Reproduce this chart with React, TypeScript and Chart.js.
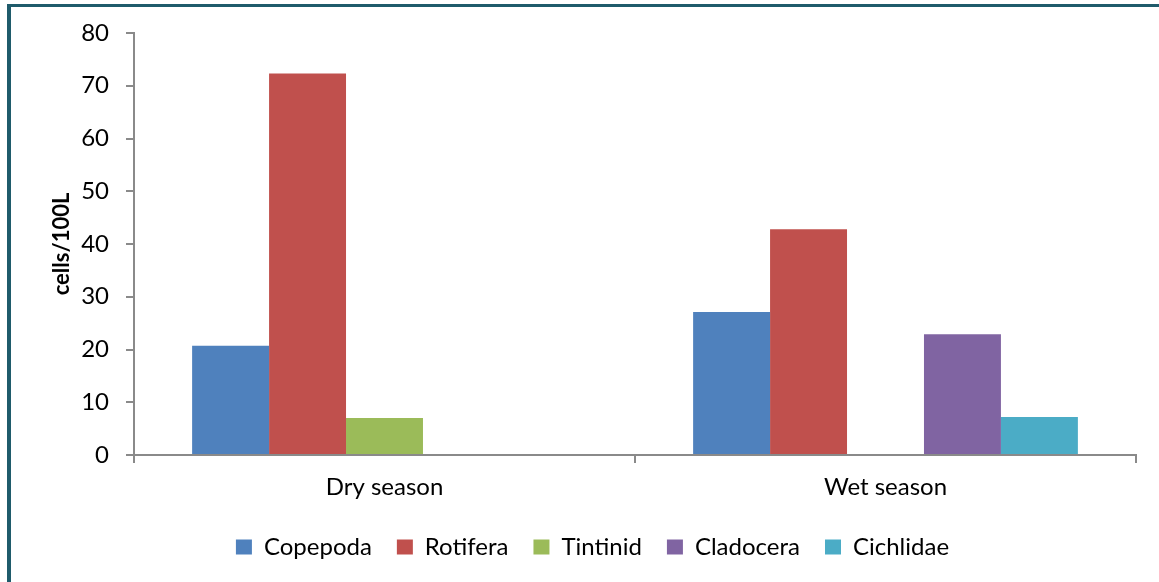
import React, { useEffect, useRef } from "react";
import { Chart, registerables } from "chart.js";

Chart.register(...registerables);

const categories = ["Dry season", "Wet season"];
const seriesNames = ["Copepoda", "Rotifera", "Tintinid", "Cladocera", "Cichlidae"];
const copepoda = [20.7, 27.1];
const rotifera = [72.3, 42.8];
const tintinid = [7.0, null];
const cladocera = [null, 22.9];
const cichlidae = [null, 7.2];
const seriesColors = ["#4F81BD", "#C0504D", "#9BBB59", "#8064A2", "#4BACC6"];
const yTicks = [0, 10, 20, 30, 40, 50, 60, 70, 80];
const yTitle = "cells/100L";

const FONT = "Lato, 'Liberation Sans', sans-serif";
const AXIS_GRAY = "#8A8A8A";

export default function App() {
  const ref = useRef<HTMLCanvasElement | null>(null);

  useEffect(() => {
    if (!ref.current) return;
    const values = [copepoda, rotifera, tintinid, cladocera, cichlidae];
    const chart = new Chart(ref.current, {
      type: "bar",
      data: {
        labels: categories,
        datasets: seriesNames.map((name, i) => ({
          label: name,
          data: values[i],
          backgroundColor: seriesColors[i],
          borderWidth: 0,
          categoryPercentage: 0.768,
          barPercentage: 1,
        })),
      },
      options: {
        animation: false,
        responsive: false,
        maintainAspectRatio: false,
        layout: { padding: { left: 49, right: 23, top: 33, bottom: 13 } },
        plugins: {
          tooltip: { enabled: false },
          legend: {
            position: "bottom",
            labels: {
              color: "#000",
              font: { family: FONT, size: 24 },
              boxWidth: 16,
              boxHeight: 15,
              padding: 25,
            },
          },
        },
        scales: {
          x: {
            grid: {
              drawOnChartArea: false,
              drawTicks: true,
              tickLength: 8,
              color: AXIS_GRAY,
              lineWidth: 2,
              offset: true,
            },
            border: { display: true, color: AXIS_GRAY, width: 2 },
            ticks: {
              color: "#000",
              font: { family: FONT, size: 24 },
              padding: 10,
            },
            afterFit: (scale: any) => {
              scale.height = 55;
            },
          },
          y: {
            min: 0,
            max: 80,
            afterBuildTicks: (scale: any) => {
              scale.ticks = yTicks.map((v) => ({ value: v }));
            },
            grid: {
              drawOnChartArea: false,
              drawTicks: true,
              tickLength: 8,
              color: AXIS_GRAY,
              lineWidth: 2,
            },
            border: { display: true, color: AXIS_GRAY, width: 2 },
            ticks: {
              color: "#000",
              font: { family: FONT, size: 24 },
              padding: 17,
            },
            title: {
              display: true,
              text: yTitle,
              color: "#000",
              font: { family: FONT, size: 22, weight: "bold" },
              padding: { top: 0, bottom: 0 },
            },
            afterFit: (scale: any) => {
              scale.width = 85;
            },
          },
        },
      },
    });
    return () => chart.destroy();
  }, []);

  return (
    <div
      style={{
        position: "absolute",
        left: 0,
        top: 0,
        width: 1159,
        height: 582,
        overflow: "hidden",
        background: "#fff",
      }}
    >
      <div
        style={{
          position: "absolute",
          left: 7,
          top: 4,
          width: 1300,
          height: 700,
          borderTop: "3px solid #1F5B6B",
          borderLeft: "4px solid #1F5B6B",
        }}
      />
      <canvas
        ref={ref}
        width={1159}
        height={582}
        style={{ position: "absolute", left: 0, top: 0, width: 1159, height: 582 }}
      />
    </div>
  );
}
